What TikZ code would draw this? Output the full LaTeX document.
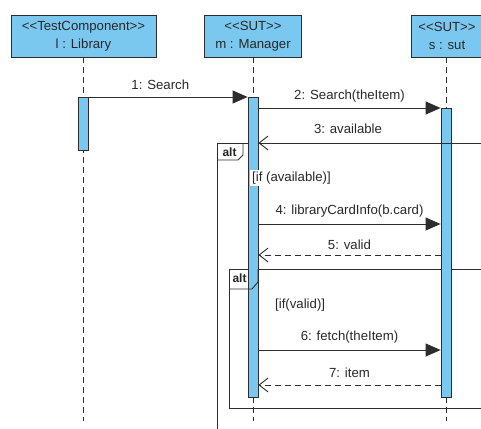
\documentclass[tikz,border=0pt]{standalone}
\usepackage{fontspec}
\setmainfont{Liberation Sans}
\usetikzlibrary{arrows.meta}
\definecolor{lifefill}{RGB}{122,200,240}
\definecolor{ink}{RGB}{45,45,45}
\definecolor{txt}{RGB}{40,40,40}
\newcommand\stereo[1]{<\kern0pt<#1>\kern0pt>}
\tikzset{
  headbox/.style={draw=ink, fill=lifefill, line width=0.9pt, minimum height=42pt, inner sep=0pt},
  headtext/.style={align=center, text=txt, inner sep=0pt},
  actbar/.style={draw=ink, fill=lifefill, line width=0.8pt, minimum width=10pt, inner sep=0pt, anchor=north},
  lifeline/.style={draw=ink, line width=0.9pt, dash pattern=on 6pt off 4pt},
  call/.style={draw=ink, line width=0.9pt, -{Triangle[length=15pt,width=13pt]}},
  answer/.style={draw=ink, line width=0.9pt, -{Straight Barb[length=9pt,width=14pt,line width=0.9pt]}},
  reply/.style={answer, dash pattern=on 6pt off 4pt},
  msg/.style={text=txt, inner sep=1pt},
  frameline/.style={draw=ink, line width=0.9pt},
  fragtab/.style={draw=ink, line width=0.9pt},
  altlabel/.style={font=\fontsize{12}{14}\bfseries\selectfont, text=black!85, inner sep=0pt},
  guard/.style={text=txt, inner sep=2pt}
}
\begin{document}
\begin{tikzpicture}[x=1pt, y=-1pt, font=\fontsize{13.2}{18}\selectfont]
\useasboundingbox (0,0) rectangle (481,428);
\clip (0,0) rectangle (481,428);

% lifeline heads
\node[headbox, minimum width=145pt] (lib) at (83.5,36) {};
\node[headtext] (libtxt) at (lib.center) {\stereo{TestComponent}\\l : Library};
\node[headbox, minimum width=97pt] (mgr) at (253,36) {};
\node[headtext] (mgrtxt) at (mgr.center) {\stereo{SUT}\\m : Manager};
\node[headbox, minimum width=72pt] (sut) at (447,36) {};
\node[headtext] (suttxt) at (447,36) {\stereo{SUT}\\s : sut};

% combined fragments (outer alt, inner alt): tab backgrounds, then frames
\coordinate (f1tl) at (217,143);
\coordinate (f2tl) at (229,269);
\fill[white] (f1tl) -- (243,143) -- (243,155) -- (238,160) -- (217,160) -- cycle;
\fill[white] (f2tl) -- (258,269) -- (258,282) -- (252,289) -- (229,289) -- cycle;
\draw[frameline] (490,143) -- (f1tl) -- (217,440);
\draw[frameline] (490,269) -- (f2tl) -- (229,408) -- (490,408);
\draw[fragtab] (243,143) -- (243,155) -- (238,160) -- (217,160);
\node[altlabel] (alt1) at (229.5,152) {alt};

% lifelines
\coordinate (libend) at (83.5,421);
\coordinate (mgrend) at (253,421);
\coordinate (sutend) at (446,421);
\draw[lifeline] (lib.south) -- (libend);
\draw[lifeline] (mgr.south) -- (mgrend);
\draw[lifeline] (sut.south -| sutend) -- (sutend);

% activation bars
\node[actbar, minimum height=53pt] (actL) at (83.5,97) {};
\node[actbar, minimum height=300pt] (actM) at (253,97) {};
\node[actbar, minimum height=289pt] (actS) at (446,108) {};

% inner tab outline over the bar
\draw[fragtab] (258,269) -- (258,282) -- (252,289) -- (229,289);
\node[altlabel] (alt2) at (239.5,278) {alt};

% message rows
\coordinate (y3) at (481,143);
\coordinate (y4) at (0,224);
\coordinate (y5) at (0,255);
\coordinate (y6) at (0,350);
\coordinate (y7) at (0,385);

\draw[call] (actL.north east) -- node[msg, above=6pt, pos=0.45] {1: Search} (actM.north west);
\draw[call] (actS.north west -| actM.east) -- node[msg, above=4pt] {2: Search(theItem)} (actS.north west);
\draw[answer] (y3) -- (y3 -| actM.east);
\node[msg] (m3) at (348,129) {3: available};
\draw[call] (y4 -| actM.east) -- node[msg, above=5pt] {4: libraryCardInfo(b.card)} (y4 -| actS.west);
\draw[reply] (y5 -| actS.west) -- node[msg, above=4pt] {5: valid} (y5 -| actM.east);
\draw[call] (y6 -| actM.east) -- node[msg, above=5pt] {6: fetch(theItem)} (y6 -| actS.west);
\draw[reply] (y7 -| actS.west) -- node[msg, above=6pt] {7: item} (y7 -| actM.east);

% guards
\node[guard, fill=white, anchor=west] (g1) at (250,178) {[if (available)]};
\node[guard, anchor=west] (g2) at (273,305) {[if(valid)]};
\end{tikzpicture}
\end{document}
